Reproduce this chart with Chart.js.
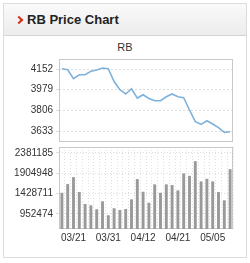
<!DOCTYPE html>
<html>
<head>
<meta charset="utf-8">
<script src="https://cdn.jsdelivr.net/npm/chart.js@4"></script>
<style>
  body { margin: 0; background: #fff; width: 250px; height: 263px; position: relative; overflow: hidden; font-family: "Liberation Sans", Arial, sans-serif; }
  .panel { position: absolute; left: 3px; top: 3px; width: 242px; height: 253px; border: 1px solid #dcdcdc; }
  .head { position: absolute; left: 0; top: 0; right: 0; height: 31px; background: linear-gradient(#fafafa, #ececec); border-bottom: 1px solid #d4d4d4; }
  .head .arrow { position: absolute; left: 12px; top: 13px; width: 4px; height: 4px; border-top: 2px solid #d3321e; border-right: 2px solid #d3321e; transform: rotate(45deg); }
  .head .txt { position: absolute; left: 23px; top: 8px; font-size: 13px; font-weight: bold; color: #222; }
  .title { position: absolute; left: 0; width: 250px; top: 41px; text-align: center; font-size: 11px; color: #333; }
  .box { position: absolute; left: 0; width: 250px; }
</style>
</head>
<body>
<div class="panel">
  <div class="head"><span class="arrow"></span><span class="txt">RB Price Chart</span></div>
</div>
<div class="title">RB</div>
<div class="box" style="top:49px;height:103px"><canvas id="priceChart"></canvas></div>
<div class="box" style="top:137px;height:112px"><canvas id="volumeChart"></canvas></div>
<script>
// Data
const dates = ['03/19', '03/20', '03/21', '03/24', '03/25', '03/26', '03/27', '03/28', '03/31', '04/01',
               '04/02', '04/03', '04/08', '04/09', '04/12', '04/14', '04/15', '04/16', '04/17', '04/18',
               '04/21', '04/22', '04/23', '04/24', '04/25', '04/30', '05/05', '05/06', '05/07', '05/08'];
const prices = [4154, 4146, 4071, 4104, 4104, 4133, 4144, 4160, 4155, 4047,
                3979, 3943, 3987, 3909, 3937, 3905, 3887, 3887, 3920, 3943,
                3920, 3912, 3809, 3711, 3689, 3719, 3692, 3661, 3622, 3627];
const volumes = [1449000, 1651800, 1815000, 1465300, 1185600, 1155300, 1062000, 1248500, 922000, 1085400,
                 1045700, 1069000, 1295200, 1768400, 1472300, 1215900, 1644800, 1449000, 1644800, 1630000,
                 1505000, 1901300, 1845300, 2188000, 1714800, 1775400, 1714800, 1465300, 1271900, 2001500];
const priceTicks = [3633, 3806, 3979, 4152];
const volumeTicks = [952474, 1428711, 1904948, 2381185];

const axisFont = { family: '"Liberation Sans", Arial, sans-serif', size: 10 };
const labelColor = '#333';

// draws the grey frame round the plot area
const boxBorder = {
    id: 'boxBorder',
    beforeDatasetsDraw(chart) {
        const { ctx, chartArea: { left, top, right, bottom } } = chart;
        ctx.save();
        ctx.strokeStyle = '#c8c8c8';
        ctx.lineWidth = 1;
        ctx.strokeRect(left + 0.5, top + 0.5, right - left - 1, bottom - top - 1);
        ctx.restore();
    }
};

function fixedWidth(scale) { scale.width = 59; }

new Chart(document.getElementById('priceChart'), {
    type: 'line',
    data: {
        labels: dates,
        datasets: [{
            data: prices,
            borderColor: '#7fb2db',
            borderWidth: 1.6,
            pointRadius: 0,
            tension: 0
        }]
    },
    options: {
        responsive: true,
        maintainAspectRatio: false,
        animation: false,
        layout: { padding: { top: 10, bottom: 10, left: 0, right: 17 } },
        plugins: { legend: { display: false }, tooltip: { enabled: false } },
        scales: {
            x: { display: false, offset: true },
            y: {
                min: 3541,
                max: 4236,
                afterBuildTicks: scale => { scale.ticks = priceTicks.map(v => ({ value: v })); },
                afterFit: fixedWidth,
                ticks: { color: labelColor, font: axisFont, padding: 3, callback: v => String(v) },
                grid: { color: '#dcdcdc', tickLength: 3, drawOnChartArea: true },
                border: { display: false, dash: [2, 2] }
            }
        }
    },
    plugins: [boxBorder]
});

new Chart(document.getElementById('volumeChart'), {
    type: 'bar',
    data: {
        labels: dates,
        datasets: [{
            data: volumes,
            backgroundColor: '#999999',
            barPercentage: 0.5,
            categoryPercentage: 1
        }]
    },
    options: {
        responsive: true,
        maintainAspectRatio: false,
        animation: false,
        layout: { padding: { top: 10, bottom: 0, left: 0, right: 17 } },
        plugins: { legend: { display: false }, tooltip: { enabled: false } },
        scales: {
            x: {
                afterFit: scale => { scale.height = 20; },
                ticks: {
                    color: labelColor,
                    font: axisFont,
                    padding: 3,
                    autoSkip: false,
                    maxRotation: 0,
                    callback: function (v, i) { return i % 6 === 2 ? this.getLabelForValue(v) : ''; }
                },
                grid: { color: '#e0e0e0', drawTicks: false },
                border: { display: false, dash: [1, 2] }
            },
            y: {
                min: 600000,
                max: 2520000,
                afterBuildTicks: scale => { scale.ticks = volumeTicks.map(v => ({ value: v })); },
                afterFit: fixedWidth,
                ticks: { color: labelColor, font: axisFont, padding: 3, callback: v => String(v) },
                grid: { color: '#dcdcdc', tickLength: 3 },
                border: { display: false, dash: [1, 2] }
            }
        }
    },
    plugins: [boxBorder]
});
</script>
</body>
</html>
